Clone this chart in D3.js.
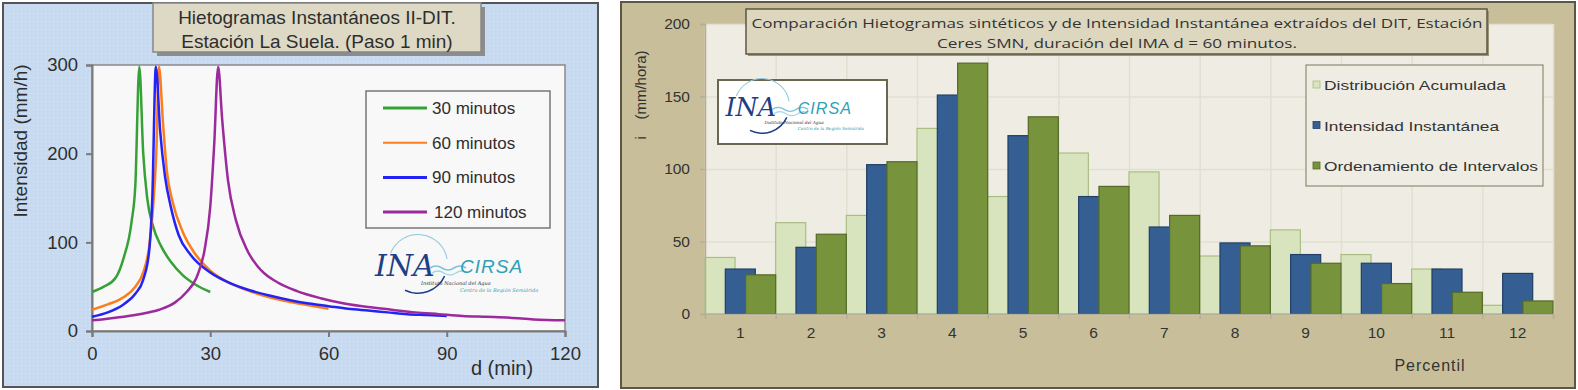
<!DOCTYPE html>
<html>
<head>
<meta charset="utf-8">
<script src="https://cdn.jsdelivr.net/npm/d3@7"></script>
<style>
  body { margin: 0; background: #fff; }
  svg { display: block; font-family: "Liberation Sans", Arial, sans-serif; }
</style>
</head>
<body>
<div id="chart"></div>
<script>
// ---- left chart data: instantaneous hyetographs (t in min, i in mm/h)
var t30  = [0, 3, 6, 8, 10, 11, 12, 13, 14, 15.5, 17.5, 20, 23, 26, 30];
var i30  = [44, 50, 60, 82, 122, 165, 298, 200, 150, 118, 96, 78, 63, 53, 44];
var t60  = [0, 4, 8, 11, 13, 14.5, 15.5, 16.3, 17, 18, 19, 20.5, 23, 26, 30, 35, 40, 45, 50, 55, 60];
var i60  = [24, 30, 38, 50, 66, 95, 140, 200, 298, 235, 180, 145, 112, 88, 68, 54, 45, 38, 33, 29, 25];
var t90  = [0, 4, 8, 11, 13, 14.5, 15.3, 16.2, 17.3, 18.5, 20, 22, 25, 30, 35, 40, 45, 50, 55, 60, 65, 70, 75, 80, 85, 90];
var i90  = [16, 21, 30, 42, 58, 90, 150, 298, 225, 175, 140, 108, 86, 66, 54, 46, 40, 35, 31, 28, 25, 23, 21, 19, 18, 17];
var t120 = [0, 6, 12, 17, 21, 24, 26.5, 28.5, 30, 31, 32, 33, 34.5, 36.5, 39.5, 43, 47, 52, 58, 64, 70, 76, 82, 88, 94, 100, 106, 112, 120];
var i120 = [12, 15, 19, 24, 32, 44, 60, 90, 140, 210, 298, 240, 170, 125, 90, 68, 55, 45, 37, 31, 27, 24, 21, 19, 17, 16, 15, 13, 12];
var seriesNames = ["30 minutos", "60 minutos", "90 minutos", "120 minutos"];
var xTicksL = [0, 30, 60, 90, 120];
var yTicksL = [0, 100, 200, 300];

// ---- right chart data: percentiles
var percentiles = [1, 2, 3, 4, 5, 6, 7, 8, 9, 10, 11, 12];
var acumulada    = [39, 63, 68, 128, 81, 111, 98, 40, 58, 41, 31, 6];
var instantanea  = [31, 46, 103, 151, 123, 81, 60, 49, 41, 35, 31, 28];
var ordenamiento = [27, 55, 105, 173, 136, 88, 68, 47, 35, 21, 15, 9];
var barNames = ["Distribución Acumulada", "Intensidad Instantánea", "Ordenamiento de Intervalos"];
var yTicksR = [0, 50, 100, 150, 200];

var svg = d3.select("#chart").append("svg")
    .attr("width", 1578)
    .attr("height", 390);

var defs = svg.append("defs");
var pat = defs.append("pattern")
    .attr("id", "dots")
    .attr("width", 4).attr("height", 4)
    .attr("patternUnits", "userSpaceOnUse");
pat.append("rect").attr("width", 4).attr("height", 4).attr("fill", "#c8daf0");
pat.append("rect").attr("x", 1).attr("y", 1).attr("width", 1).attr("height", 1).attr("fill", "#d8e6f6");

// ================= LEFT CHART =================
var left = svg.append("g");

left.append("rect")
    .attr("x", 3).attr("y", 3).attr("width", 595).attr("height", 384)
    .attr("fill", "url(#dots)")
    .attr("stroke", "#555").attr("stroke-width", 2);

var xL = d3.scaleLinear().domain([0, 120]).range([92, 565]);
var yL = d3.scaleLinear().domain([0, 300]).range([331, 65]);

left.append("rect")
    .attr("x", xL(0)).attr("y", yL(300))
    .attr("width", xL(120) - xL(0)).attr("height", yL(0) - yL(300))
    .attr("fill", "#f8f8f8")
    .attr("stroke", "#8a8a8a").attr("stroke-width", 1.5);

var axL = left.append("g")
    .attr("transform", "translate(" + xL(0) + ",0)")
    .call(d3.axisLeft(yL).tickValues(yTicksL).tickSize(6).tickPadding(8));
var axB = left.append("g")
    .attr("transform", "translate(0," + yL(0) + ")")
    .call(d3.axisBottom(xL).tickValues(xTicksL).tickSize(6).tickPadding(10));
[axL, axB].forEach(function(a) {
    a.selectAll("path, line").attr("stroke", "#7a7a7a").attr("stroke-width", 2);
    a.selectAll("text").attr("font-size", 18.5).attr("fill", "#2e2e2e")
        .attr("font-family", "Liberation Sans, Arial, sans-serif");
});

left.append("text")
    .attr("transform", "translate(27,141) rotate(-90)")
    .attr("text-anchor", "middle")
    .attr("font-size", 19).attr("fill", "#2e2e2e")
    .text("Intensidad (mm/h)");

left.append("text")
    .attr("x", 502).attr("y", 375)
    .attr("text-anchor", "middle")
    .attr("font-size", 20).attr("fill", "#2e2e2e")
    .text("d (min)");

var lineColors = ["#36a136", "#fb7d1e", "#2323f5", "#9c2a9c"];
var lineData = [
    d3.zip(t30, i30), d3.zip(t60, i60), d3.zip(t90, i90), d3.zip(t120, i120)
];
var line = d3.line()
    .x(function(d) { return xL(d[0]); })
    .y(function(d) { return yL(d[1]); })
    .curve(d3.curveMonotoneX);

left.append("g").selectAll("path")
    .data(lineData)
    .enter().append("path")
    .attr("d", line)
    .attr("fill", "none")
    .attr("stroke", function(d, i) { return lineColors[i]; })
    .attr("stroke-width", 2.5)
    .attr("stroke-linejoin", "round");

// legend
var legL = left.append("g");
legL.append("rect")
    .attr("x", 366).attr("y", 91).attr("width", 184).attr("height", 137)
    .attr("fill", "#f8f8f8").attr("stroke", "#777").attr("stroke-width", 1.5);
var legItems = legL.selectAll("g.item")
    .data(seriesNames)
    .enter().append("g")
    .attr("class", "item")
    .attr("transform", function(d, i) { return "translate(0," + (108 + i * 34.7) + ")"; });
legItems.append("line")
    .attr("x1", 383).attr("x2", 427)
    .attr("stroke", function(d, i) { return lineColors[i]; })
    .attr("stroke-width", function(d, i) { return i === 1 ? 2 : 3; });
legItems.append("text")
    .attr("x", function(d, i) { return i === 3 ? 434 : 432; }).attr("y", 6)
    .attr("font-size", 17).attr("fill", "#2e2e2e")
    .text(function(d) { return d; });

// title box
left.append("rect")
    .attr("x", 157).attr("y", 7).attr("width", 328).attr("height", 49)
    .attr("fill", "#8c8c8c");
left.append("rect")
    .attr("x", 153).attr("y", 3).attr("width", 328).attr("height", 49)
    .attr("fill", "#ddd9c4").attr("stroke", "#888").attr("stroke-width", 1.5);
left.append("text")
    .attr("x", 317).attr("y", 24).attr("text-anchor", "middle")
    .attr("font-size", 19).attr("fill", "#2e2e2e")
    .text("Hietogramas Instantáneos II-DIT.");
left.append("text")
    .attr("x", 317).attr("y", 48).attr("text-anchor", "middle")
    .attr("font-size", 19).attr("fill", "#2e2e2e")
    .text("Estación La Suela. (Paso 1 min)");

// logo (INA - CIRSA)
function drawLogo(g, cx, cy, r, s) {
    var arc = d3.arc();
    g.append("path")
        .attr("transform", "translate(" + cx + "," + cy + ")")
        .attr("d", arc({innerRadius: r - 1, outerRadius: r, startAngle: -1.2, endAngle: 1.4}))
        .attr("fill", "#8cc8dc");
    g.append("path")
        .attr("transform", "translate(" + cx + "," + cy + ")")
        .attr("d", arc({innerRadius: r - 1.5, outerRadius: r, startAngle: 2.0, endAngle: 3.6}))
        .attr("fill", "#1d3f86");
    g.append("text")
        .attr("x", cx - 43 * s).attr("y", cy + 12 * s)
        .attr("font-family", "DejaVu Serif, serif").attr("font-style", "italic")
        .attr("font-size", 30 * s).attr("fill", "#1d3f86")
        .text("INA");
    g.append("path")
        .attr("d", "M" + (cx + 12 * s) + "," + (cy + 4 * s) + " q6,-4 12,0 t12,0 t12,0")
        .attr("fill", "none").attr("stroke", "#7cc4da").attr("stroke-width", 1.6 * s);
    g.append("path")
        .attr("d", "M" + (cx + 14 * s) + "," + (cy + 9 * s) + " q6,-4 12,0 t12,0 t10,0")
        .attr("fill", "none").attr("stroke", "#a5d6e6").attr("stroke-width", 1.4 * s);
    g.append("text")
        .attr("x", cx + 42 * s).attr("y", cy + 9 * s)
        .attr("font-style", "italic")
        .attr("font-size", 19 * s).attr("fill", "#2ea0b5")
        .attr("letter-spacing", 1)
        .text("CIRSA");
    g.append("text")
        .attr("x", cx + 3 * s).attr("y", cy + 21 * s)
        .attr("font-family", "DejaVu Serif, serif").attr("font-style", "italic")
        .attr("font-size", 5 * s).attr("fill", "#333")
        .text("Instituto Nacional del Agua");
    g.append("text")
        .attr("x", cx + 42 * s).attr("y", cy + 28 * s)
        .attr("font-family", "DejaVu Serif, serif").attr("font-style", "italic")
        .attr("font-size", 5 * s).attr("fill", "#2ea0b5")
        .text("Centro de la Región Semiárida");
}
drawLogo(left.append("g"), 418, 264, 30, 1);

// ================= RIGHT CHART =================
var right = svg.append("g");

right.append("rect")
    .attr("x", 621).attr("y", 2).attr("width", 954).attr("height", 386)
    .attr("fill", "#c8bf9a")
    .attr("stroke", "#5c5744").attr("stroke-width", 2);

var xR = d3.scaleBand().domain(percentiles).range([705, 1553]).padding(0);
var xEdge = d3.scaleLinear().domain([0, 12]).range([705, 1553]);
var yR = d3.scaleLinear().domain([0, 200]).range([314, 24]);

right.append("rect")
    .attr("x", 705).attr("y", yR(200))
    .attr("width", 1553 - 705).attr("height", yR(0) - yR(200))
    .attr("fill", "#efede3");

// gridlines
right.append("g")
    .attr("transform", "translate(705,0)")
    .call(d3.axisLeft(yR).tickValues(yTicksR).tickSize(-(1553 - 705)).tickFormat(""))
    .call(function(g) {
        g.select(".domain").remove();
        g.selectAll("line").attr("stroke", "#e2dfd1").attr("stroke-width", 1.5);
    });
right.append("g")
    .attr("transform", "translate(0," + yR(0) + ")")
    .call(d3.axisBottom(xEdge).tickValues(d3.range(13)).tickSize(-(yR(0) - yR(200))).tickFormat(""))
    .call(function(g) {
        g.select(".domain").remove();
        g.selectAll("line").attr("stroke", "#e2dfd1").attr("stroke-width", 1.5);
    });

// bars
var bw = xR.bandwidth();
var barW = bw * 0.425;
var barSeries = [
    {vals: acumulada,    fill: "#d8e4bd", stroke: "#a9be82"},
    {vals: instantanea,  fill: "#355f92", stroke: "#213f66"},
    {vals: ordenamiento, fill: "#77933c", stroke: "#55692a"}
];
barSeries.forEach(function(s, si) {
    right.append("g").selectAll("rect")
        .data(s.vals)
        .enter().append("rect")
        .attr("x", function(d, i) { return xR(percentiles[i]) + si * (bw - barW) / 2; })
        .attr("y", function(d) { return yR(d); })
        .attr("width", barW)
        .attr("height", function(d) { return yR(0) - yR(d); })
        .attr("fill", s.fill)
        .attr("stroke", s.stroke).attr("stroke-width", 1.2);
});

// axes
var axRL = right.append("g")
    .attr("transform", "translate(705,0)")
    .call(d3.axisLeft(yR).tickValues(yTicksR).tickSize(5).tickPadding(10));
var axRB = right.append("g")
    .attr("transform", "translate(0," + yR(0) + ")")
    .call(d3.axisBottom(xEdge).tickValues(d3.range(13)).tickSize(5).tickFormat(""));
var axRC = right.append("g")
    .attr("transform", "translate(0," + yR(0) + ")")
    .call(d3.axisBottom(xR).tickSize(0).tickPadding(13));
axRC.select(".domain").remove();
[axRL, axRB, axRC].forEach(function(a) {
    a.selectAll("path, line").attr("stroke", "#b4af98").attr("stroke-width", 1.5);
    a.selectAll("text").attr("font-size", 15.5).attr("fill", "#333")
        .attr("font-family", "Liberation Sans, Arial, sans-serif");
});

right.append("text")
    .attr("transform", "translate(646,95) rotate(-90)")
    .attr("text-anchor", "middle")
    .attr("font-size", 15).attr("fill", "#333")
    .attr("xml:space", "preserve")
    .text("i    (mm/hora)");

right.append("text")
    .attr("x", 1430).attr("y", 371)
    .attr("text-anchor", "middle")
    .attr("font-size", 16).attr("fill", "#333")
    .attr("letter-spacing", 1)
    .text("Percentil");

// legend
var legR = right.append("g");
legR.append("rect")
    .attr("x", 1306).attr("y", 65).attr("width", 237).attr("height", 121)
    .attr("fill", "#efede3").attr("stroke", "#8e8a74").attr("stroke-width", 1.2);
var legRItems = legR.selectAll("g.item")
    .data(barNames)
    .enter().append("g")
    .attr("class", "item")
    .attr("transform", function(d, i) { return "translate(0," + (85 + i * 40.5) + ")"; });
legRItems.append("rect")
    .attr("x", 1313).attr("y", -4).attr("width", 7).attr("height", 7)
    .attr("fill", function(d, i) { return barSeries[i].fill; })
    .attr("stroke", function(d, i) { return barSeries[i].stroke; }).attr("stroke-width", 0.8);
legRItems.append("text")
    .attr("x", 1324).attr("y", 5)
    .attr("font-size", 13.5).attr("fill", "#333")
    .attr("textLength", function(d, i) { return [182, 175, 214][i]; })
    .attr("lengthAdjust", "spacingAndGlyphs")
    .text(function(d) { return d; });

// title box
right.append("rect")
    .attr("x", 748).attr("y", 11).attr("width", 741).attr("height", 45)
    .attr("fill", "#9b9477");
right.append("rect")
    .attr("x", 746).attr("y", 9).attr("width", 741).attr("height", 45)
    .attr("fill", "#ddd7bf").attr("stroke", "#5c5744").attr("stroke-width", 1.5);
right.append("text")
    .attr("x", 1117).attr("y", 28).attr("text-anchor", "middle")
    .attr("font-family", "Open Sans, sans-serif")
    .attr("font-size", 13.5).attr("fill", "#333")
    .attr("textLength", 731).attr("lengthAdjust", "spacingAndGlyphs")
    .text("Comparación Hietogramas sintéticos y de Intensidad Instantánea extraídos del DIT, Estación");
right.append("text")
    .attr("x", 1117).attr("y", 48).attr("text-anchor", "middle")
    .attr("font-family", "Open Sans, sans-serif")
    .attr("font-size", 13.5).attr("fill", "#333")
    .attr("textLength", 360).attr("lengthAdjust", "spacingAndGlyphs")
    .text("Ceres SMN, duración del IMA d = 60 minutos.");

// logo box
right.append("rect")
    .attr("x", 718).attr("y", 80).attr("width", 169).attr("height", 64)
    .attr("fill", "#fff").attr("stroke", "#6b6650").attr("stroke-width", 2);
drawLogo(right.append("g"), 762, 106, 28, 0.85);
</script>
</body>
</html>
